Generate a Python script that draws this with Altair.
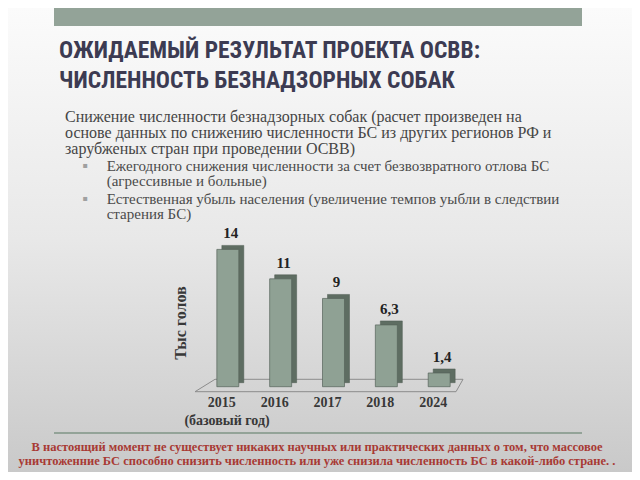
import altair as alt
import pandas as pd

# ---- data ----
years = ["2015", "2016", "2017", "2018", "2024"]
values = [14, 11, 9, 6.3, 1.4]
value_labels = ["14", "11", "9", "6,3", "1,4"]

title_lines = ["ОЖИДАЕМЫЙ  РЕЗУЛЬТАТ  ПРОЕКТА ОСВВ:", "ЧИСЛЕННОСТЬ БЕЗНАДЗОРНЫХ СОБАК"]
body_lines = [
    "Снижение численности безнадзорных собак (расчет произведен на",
    "основе данных по снижению численности БС из других регионов РФ и",
    "зарубженых стран при проведении ОСВВ)",
]
bullet1_lines = ["Ежегодного снижения численности за счет безвозвратного отлова БС",
                 "(агрессивные и больные)"]
bullet2_lines = ["Естественная убыль населения (увеличение темпов уыбли в следствии",
                 "старения БС)"]
y_title = "Тыс голов"
base_note = "(базовый год)"
footer_lines = [
    "В настоящий момент не существует никаких научных или практических данных о том, что массовое",
    "уничтоженние БС способно снизить численность или уже снизила численность БС в какой-либо стране. .",
]

W, H = 624, 464
df = pd.DataFrame({"year": years, "value": values, "label": value_labels})

one = alt.Data(values=[{}])


def txt(s, x, y, **kw):
    return alt.Chart(one).mark_text(**kw).encode(
        x=alt.value(x), y=alt.value(y), text=alt.value(s)
    )


def rule(x1, y1, x2, y2, color, width):
    return alt.Chart(one).mark_rule(color=color, strokeWidth=width).encode(
        x=alt.value(x1), y=alt.value(y1), x2=alt.value(x2), y2=alt.value(y2)
    )


bg = alt.Chart(one).mark_rect(
    color=alt.Gradient(
        gradient="linear",
        stops=[
            alt.GradientStop(color="#fbfbfb", offset=0),
            alt.GradientStop(color="#e8e8e8", offset=0.5),
            alt.GradientStop(color="#c9c9c9", offset=1),
        ],
        x1=0, x2=0, y1=0, y2=1,
    )
).encode(x=alt.value(0), x2=alt.value(W), y=alt.value(0), y2=alt.value(H))

topbar = alt.Chart(one).mark_rect(color="#93a398").encode(
    x=alt.value(46), x2=alt.value(574), y=alt.value(0), y2=alt.value(18)
)
bottom_rule = rule(46, 425, 574, 425, "#93a398", 2)

title_font = "Roboto Condensed, Open Sans Condensed, DejaVu Sans Condensed, Roboto, sans-serif"
titles = [
    txt(title_lines[0], 51, 43, font=title_font, fontSize=23.5, fontWeight="bold",
        color="#3c3b52", align="left", baseline="middle"),
    txt(title_lines[1], 51, 73, font=title_font, fontSize=23.5, fontWeight="bold",
        color="#3c3b52", align="left", baseline="middle"),
]

serif = "Liberation Serif, Times New Roman, serif"
body = []
for i, s in enumerate(body_lines):
    body.append(txt(s, 57, 108.7 + 16 * i, font=serif, fontSize=16,
                    color="#454545", align="left", baseline="middle"))
for i, s in enumerate(bullet1_lines):
    body.append(txt(s, 98.7, 157.7 + 15 * i, font=serif, fontSize=15,
                    color="#4a4a4a", align="left", baseline="middle"))
for i, s in enumerate(bullet2_lines):
    body.append(txt(s, 98.7, 191 + 15 * i, font=serif, fontSize=15,
                    color="#4a4a4a", align="left", baseline="middle"))
for yb in (157.7, 191):
    body.append(txt("▪", 77, yb, font="DejaVu Sans", fontSize=8,
                    color="#a0a0a0", align="center", baseline="middle"))

footer = []
for i, s in enumerate(footer_lines):
    footer.append(txt(s, 309, 438.7 + 14 * i, font=serif, fontSize=12.5,
                      fontWeight="bold", color="#a83a34", align="center",
                      baseline="middle"))

# floor of the 3D chart
floor_col = "#8c8c8c"
floor = [
    rule(207, 371.3, 455, 371.3, floor_col, 1),
    rule(187, 383.7, 448, 383.7, floor_col, 1),
    rule(207, 371.3, 187, 383.7, floor_col, 1),
    rule(455, 371.3, 448, 383.7, floor_col, 1),
]

xenc = alt.X("year:N", sort=years,
             scale=alt.Scale(range=[193.4, 457.6], paddingInner=0.584, paddingOuter=0.292),
             axis=None)
yenc = alt.Y("value:Q", scale=alt.Scale(domain=[0, 14], range=[378.7, 241.4], nice=False, zero=True),
             axis=None)

base = alt.Chart(df)
back = base.mark_bar(color="#5e6d62", xOffset=5, x2Offset=5, yOffset=-4, y2Offset=-4,
                     stroke="#4d5a50", strokeWidth=0.5).encode(x=xenc, y=yenc)
front = base.mark_bar(color="#8fa194", stroke="#56635a", strokeWidth=0.7).encode(x=xenc, y=yenc)
vlabels = base.mark_text(font=serif, fontSize=15, fontWeight="bold", color="#222222",
                         dx=3, dy=-16, baseline="middle").encode(x=xenc, y=yenc, text="label:N")
xlabels = base.mark_text(font=serif, fontSize=14, fontWeight="bold", color="#383838",
                         dx=-6, baseline="middle").encode(x=xenc, y=alt.value(394.7), text="year:N")

extra = [
    txt(y_title, 173, 315, font=serif, fontSize=16, fontWeight="bold", color="#383838",
        angle=270, align="center", baseline="middle"),
    txt(base_note, 219, 413, font=serif, fontSize=14, fontWeight="bold", color="#383838",
        align="center", baseline="middle"),
]

chart = alt.layer(
    bg, topbar, bottom_rule, *titles, *body, *footer, *floor, back, front, vlabels, xlabels, *extra
).properties(
    width=W, height=H, autosize=alt.AutoSizeParams(type="none"), padding=0
).configure_view(strokeWidth=0)

chart.save("out.html", embed_options={"renderer": "svg", "actions": False})
